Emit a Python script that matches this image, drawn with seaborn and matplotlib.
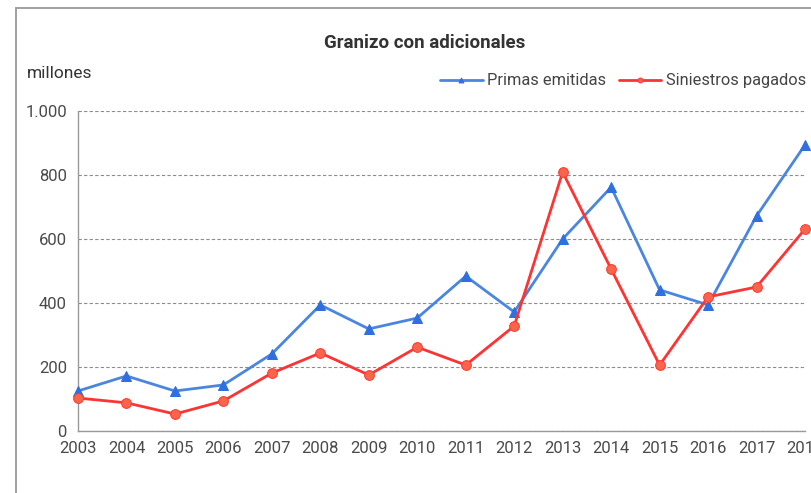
import matplotlib
matplotlib.use("Agg")
import matplotlib.pyplot as plt
import seaborn as sns
import pandas as pd
from matplotlib.patches import Rectangle

years = list(range(2003, 2019))
primas = [125, 172, 125, 144, 241, 394, 319, 353, 484, 372, 600, 762, 441, 394, 672, 894]
siniestros = [103, 88, 53, 94, 181, 244, 175, 262, 206, 328, 809, 506, 206, 419, 450, 631]
yticks = [0, 200, 400, 600, 800, 1000]
ytick_labels = ["0", "200", "400", "600", "800", "1.000"]

df = pd.DataFrame({"anio": years, "Primas emitidas": primas, "Siniestros pagados": siniestros})

sns.set_style("white")
plt.rcParams["font.family"] = ["Roboto", "DejaVu Sans"]

fig = plt.figure(figsize=(8.12, 4.93), dpi=100)
ax = fig.add_axes([78 / 812, 1 - 431 / 493, (805 - 78) / 812, 320 / 493])

# marco exterior del gráfico
fig.patches.append(Rectangle((16 / 812, -0.1), 1.2, 1 - 8 / 493 + 0.1, transform=fig.transFigure,
                             fill=False, edgecolor="#a0a0a0", linewidth=1.4))

blue = "#4a86e0"
red = "#ff3333"
sns.lineplot(data=df, x="anio", y="Primas emitidas", ax=ax, color=blue, linewidth=2,
             marker="^", markersize=7, markerfacecolor="#2f6fe0", markeredgecolor="#2f6fe0",
             label="Primas emitidas", clip_on=False, zorder=3)
sns.lineplot(data=df, x="anio", y="Siniestros pagados", ax=ax, color=red, linewidth=2,
             marker="o", markersize=7, markerfacecolor="#f8654c", markeredgecolor="#ff3b30",
             label="Siniestros pagados", clip_on=False, zorder=4)

ax.set_xlim(2003, 2018)
ax.set_ylim(0, 1000)
ax.set_xticks(years)
ax.set_xticklabels([str(y) for y in years])
ax.set_yticks(yticks)
ax.set_yticklabels(ytick_labels)
ax.set_xlabel("")
ax.set_ylabel("")
ax.grid(axis="y", linestyle=(0, (3, 2)), color="#8c8c8c", linewidth=0.8)
ax.set_axisbelow(True)

for side in ["top", "right"]:
    ax.spines[side].set_visible(False)
for side in ["left", "bottom"]:
    ax.spines[side].set_color("#999999")
    ax.spines[side].set_linewidth(1)
ax.tick_params(axis="both", colors="#999999", length=4, width=1, labelsize=12, labelcolor="#4a4a4a")
ax.tick_params(axis="x", pad=3)
ax.tick_params(axis="y", pad=4)

fig.text(425 / 812, 1 - 43 / 493, "Granizo con adicionales", ha="center", va="center",
         fontsize=13.5, fontweight="bold", color="#333333")
fig.text(27 / 812, 1 - 73 / 493, "millones", ha="left", va="center", fontsize=12.5, color="#333333")

leg = ax.legend(loc="lower right", bbox_to_anchor=(1.01, 1.05), ncol=2, frameon=False,
                fontsize=11.8, handlelength=2.6, handletextpad=0.25, columnspacing=0.8,
                markerscale=0.5, borderaxespad=0, labelcolor="#444444")

fig.savefig("out.png", dpi=100)
